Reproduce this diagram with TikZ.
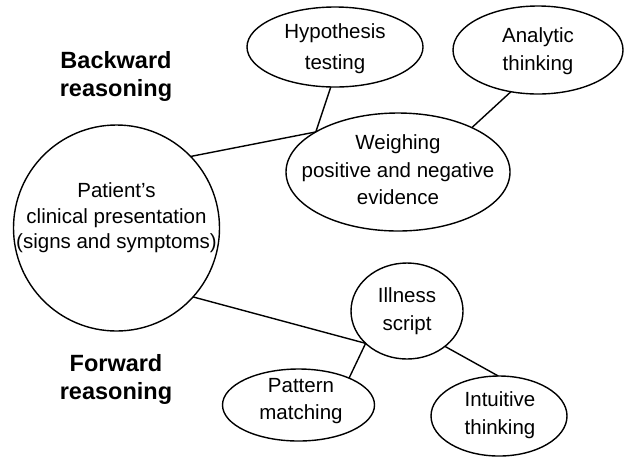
\documentclass[tikz,border=0pt]{standalone}
\usepackage{fontspec}
\setmainfont{Liberation Sans}
\usetikzlibrary{shapes.geometric}
\begin{document}
\begin{tikzpicture}[x=0.5pt,y=-0.5pt,
  oval/.style={draw, ellipse, line width=0.7pt, inner sep=0pt, outer sep=0pt},
  disc/.style={draw, circle, line width=0.7pt, inner sep=0pt, outer sep=0pt},
  txt/.style={align=center, inner sep=0pt, font=\fontsize{10.25pt}{13.75pt}\selectfont},
  head/.style={align=center, inner sep=0pt, font=\bfseries\fontsize{11.75pt}{14pt}\selectfont},
  link/.style={line width=0.7pt}]
\useasboundingbox (0,0) rectangle (624,456);

% shapes
\node[disc, minimum size=103pt] (pat) at (116.5,228) {};
\node[oval, minimum width=88pt, minimum height=40pt] (hyp) at (335,47) {};
\node[oval, minimum width=85pt, minimum height=44pt] (ana) at (538,50) {};
\node[oval, minimum width=112pt, minimum height=59pt] (wei) at (398,172) {};
\node[oval, minimum width=56pt, minimum height=48pt] (ill) at (407,311) {};
\node[oval, minimum width=76pt, minimum height=36pt] (pm) at (298.5,405) {};
\node[oval, minimum width=68pt, minimum height=40pt] (int) at (499,416) {};

% texts
\node[txt, font=\fontsize{10.25pt}{12.75pt}\selectfont] (patT) at (116.5,218) {Patient’s\\clinical presentation\\(signs and symptoms)};
\node[txt, font=\fontsize{10.25pt}{15.5pt}\selectfont] (hypT) at (335,49) {Hypothesis\\testing};
\node[txt] (anaT) at (538,51) {Analytic\\thinking};
\node[txt] (weiT) at (398,170) {Weighing\\positive and negative\\evidence};
\node[txt] (illT) at (407,311) {Illness\\script};
\node[txt] (pmT) at (301,401) {Pattern\\matching};
\node[txt] (intT) at (500,415) {Intuitive\\thinking};

\node[head] (back) at (116,76) {Backward\\reasoning};
\node[head] (fwd) at (116,379) {Forward\\reasoning};

% connectors
\draw[link] (pat.44) -- (wei.154);
\draw[link] (hyp.264) -- (wei.154);
\draw[link] (ana.237) -- (wei.31);
\draw[link] (pat.-42) -- (ill.218);
\draw[link] (ill.218) -- (pm.28);
\draw[link] (ill.-43) -- (int.91);
\end{tikzpicture}
\end{document}
